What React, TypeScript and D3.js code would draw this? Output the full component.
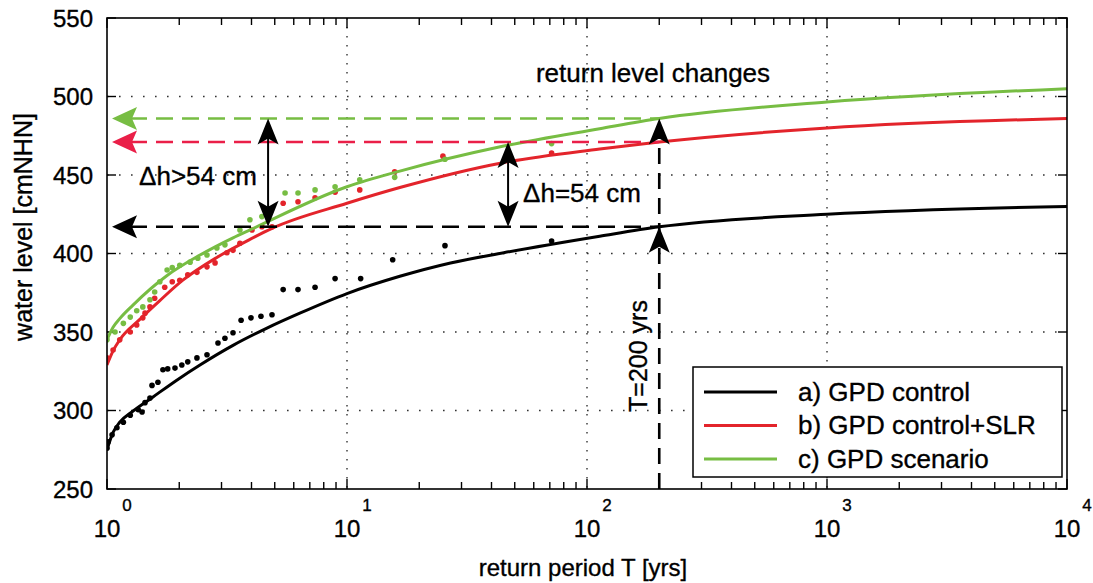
import React from 'react';
import * as d3 from 'd3';

const WIDTH = 1093;
const HEIGHT = 583;
const FONT = '"Liberation Sans", Arial, Helvetica, sans-serif';

// plot frame (pixels)
const PLOT_LEFT = 107;
const PLOT_RIGHT = 1067;
const PLOT_TOP = 18;
const PLOT_BOTTOM = 489;

// axes
const yTicks = [250, 300, 350, 400, 450, 500, 550];
const xDecadeExponents = [0, 1, 2, 3, 4];

// series colours
const COLOR_CONTROL = '#000000';
const COLOR_SLR = '#e3242b';
const COLOR_SLR_ARROW = '#ea1f48';
const COLOR_SCENARIO = '#77bd43';

// fitted GPD return level curves (return period T in years, level in cmNHN)
const controlCurveT = [1, 1.06, 1.13, 1.28, 1.55, 1.96, 2.44, 3.35, 4.64, 6.36, 10, 16.6, 27, 45, 113, 200, 1000, 10000];
const controlCurveLevel = [275, 286, 292.5, 299.5, 308.5, 319.5, 329, 341.5, 352.5, 362, 374.5, 385.5, 394, 400.5, 411, 417, 425, 430];

const slrCurveT = [1, 1.06, 1.13, 1.37, 1.66, 2.07, 2.87, 3.94, 4.87, 10, 16.6, 43.5, 113, 200, 1000, 10000];
const slrCurveLevel = [329, 338, 345, 358, 370, 383, 397.5, 409, 416, 432, 442, 457.5, 466.5, 471, 480, 486];

const scenarioCurveT = [1, 1.06, 1.13, 1.28, 1.78, 2.44, 3.35, 3.94, 10, 16.6, 43.5, 113, 200, 1000, 10000];
const scenarioCurveLevel = [345, 353, 358.5, 367, 386, 399, 410, 415, 442.5, 452.5, 468, 479.5, 486, 496.5, 505];

// empirical return levels
const controlObsT = [1.0, 1.01, 1.05, 1.1, 1.17, 1.25, 1.35, 1.4, 1.44, 1.51, 1.54, 1.63, 1.71, 1.79, 1.92, 2.05, 2.17, 2.37, 2.61, 2.9, 3.1, 3.35, 3.62, 3.98, 4.38, 4.87, 5.42, 6.25, 7.36, 8.92, 11.4, 15.5, 25.6, 71.2];
const controlObsLevel = [276, 280, 284.5, 289, 292.5, 297, 300.5, 299, 305, 308, 316, 318, 326, 326.5, 327, 329, 331, 333.5, 335.5, 343, 346, 349.5, 357.5, 359, 360, 361, 377, 377, 378.5, 384, 384, 396, 405, 408];

const slrObsT = [1.0, 1.06, 1.13, 1.25, 1.33, 1.41, 1.44, 1.51, 1.58, 1.74, 1.87, 2.01, 2.17, 2.37, 2.61, 2.82, 3.16, 3.35, 3.58, 4.02, 4.42, 4.87, 5.42, 6.25, 7.36, 8.92, 11.3, 15.8, 25.1, 71.2];
const slrObsLevel = [333.5, 338.5, 345, 350, 354.5, 359, 362, 366, 371.5, 378.5, 382, 383, 386.5, 388, 391.5, 394, 400.5, 402, 406.5, 415, 417, 417, 432, 433, 435.5, 439, 440.5, 452, 462, 464];

const scenarioObsT = [1.0, 1.08, 1.17, 1.25, 1.33, 1.41, 1.51, 1.58, 1.66, 1.78, 1.87, 2.01, 2.22, 2.39, 2.61, 2.87, 3.1, 3.58, 3.94, 4.42, 5.52, 6.25, 7.36, 8.92, 11.3, 15.8, 25.6, 71.2];
const scenarioObsLevel = [345, 350, 355.5, 359.5, 363.5, 366, 370.5, 375.5, 382, 389.5, 391, 392.5, 394.5, 397, 399, 403.5, 405.5, 415, 421.5, 423.5, 438.5, 438.5, 440.5, 442.5, 447, 448.5, 460, 470];

// 200-year return levels and the annotation arrows
const T_DESIGN = 200;
const level200Control = 417;
const level200Slr = 471; // control + 54 cm
const level200Scenario = 486;
const T_ARROW_SCENARIO = 4.69;
const T_ARROW_SLR = 46.9;

const legendLabels = ['a) GPD control', 'b) GPD control+SLR', 'c) GPD scenario'];
const legendColors = [COLOR_CONTROL, COLOR_SLR, COLOR_SCENARIO];

const x = d3.scaleLog().domain([1, 10000]).range([PLOT_LEFT, PLOT_RIGHT]);
const y = d3.scaleLinear().domain([250, 550]).range([PLOT_BOTTOM, PLOT_TOP]);

const lineGen = d3
  .line<[number, number]>()
  .x((d) => x(d[0]))
  .y((d) => y(d[1]))
  .curve(d3.curveMonotoneX);

const zip = (a: number[], b: number[]): [number, number][] => a.map((t, i) => [t, b[i]]);

// filled arrow head with a notched back; (dx, dy) points toward the tip
function arrowHead(tx: number, ty: number, dx: number, dy: number, len = 26, half = 10.5, notch = 20) {
  const bx = tx - dx * len;
  const by = ty - dy * len;
  const nx = tx - dx * notch;
  const ny = ty - dy * notch;
  const px = -dy;
  const py = dx;
  return `M${tx},${ty}L${bx + px * half},${by + py * half}L${nx},${ny}L${bx - px * half},${by - py * half}Z`;
}

const minorTicks: number[] = [];
for (let d = 0; d < 4; d++) {
  for (let k = 2; k <= 9; k++) minorTicks.push(k * Math.pow(10, d));
}

// slightly heavier text strokes
const TEXT_STYLE = { stroke: '#000', strokeWidth: 0.35 };

export default function App() {
  const series = [
    { curve: zip(controlCurveT, controlCurveLevel), obs: zip(controlObsT, controlObsLevel), color: COLOR_CONTROL },
    { curve: zip(slrCurveT, slrCurveLevel), obs: zip(slrObsT, slrObsLevel), color: COLOR_SLR },
    { curve: zip(scenarioCurveT, scenarioCurveLevel), obs: zip(scenarioObsT, scenarioObsLevel), color: COLOR_SCENARIO },
  ];

  const xd = x(T_DESIGN);
  const arrowStartX = x(1) + 5;
  const hLevels = [
    { level: level200Scenario, color: COLOR_SCENARIO },
    { level: level200Slr, color: COLOR_SLR_ARROW },
    { level: level200Control, color: COLOR_CONTROL },
  ];

  const xa1 = x(T_ARROW_SCENARIO);
  const xa2 = x(T_ARROW_SLR);

  return (
    <svg
      width={WIDTH}
      height={HEIGHT}
      viewBox={`0 0 ${WIDTH} ${HEIGHT}`}
      style={{ position: 'absolute', left: 0, top: 0, background: '#fff', fontFamily: FONT }}
    >
      <defs>
        <clipPath id="plot-clip">
          <rect x={PLOT_LEFT} y={PLOT_TOP} width={PLOT_RIGHT - PLOT_LEFT} height={PLOT_BOTTOM - PLOT_TOP} />
        </clipPath>
      </defs>

      {/* dotted grid */}
      <g stroke="#333" strokeWidth={1.4} fill="none">
        {yTicks.slice(1, -1).map((v) => (
          <line key={`gy${v}`} x1={PLOT_LEFT} x2={PLOT_RIGHT} y1={y(v)} y2={y(v)} strokeDasharray="1.6,10.4" />
        ))}
        {xDecadeExponents.slice(1, -1).map((e) => (
          <line key={`gx${e}`} x1={x(10 ** e)} x2={x(10 ** e)} y1={PLOT_TOP} y2={PLOT_BOTTOM} strokeDasharray="1.6,7.4" />
        ))}
      </g>

      {/* ticks */}
      <g stroke="#000" strokeWidth={1.4}>
        {yTicks.map((v) => (
          <g key={`ty${v}`}>
            <line x1={PLOT_LEFT} x2={PLOT_LEFT + 9} y1={y(v)} y2={y(v)} />
            <line x1={PLOT_RIGHT} x2={PLOT_RIGHT - 9} y1={y(v)} y2={y(v)} />
          </g>
        ))}
        {minorTicks.map((t) => (
          <g key={`tm${t}`}>
            <line x1={x(t)} x2={x(t)} y1={PLOT_BOTTOM} y2={PLOT_BOTTOM - 7} />
            <line x1={x(t)} x2={x(t)} y1={PLOT_TOP} y2={PLOT_TOP + 7} />
          </g>
        ))}
        {xDecadeExponents.map((e) => (
          <g key={`tx${e}`}>
            <line x1={x(10 ** e)} x2={x(10 ** e)} y1={PLOT_BOTTOM} y2={PLOT_BOTTOM - 10} />
            <line x1={x(10 ** e)} x2={x(10 ** e)} y1={PLOT_TOP} y2={PLOT_TOP + 10} />
          </g>
        ))}
      </g>

      {/* tick labels */}
      <g fontSize={24} fill="#000" style={TEXT_STYLE}>
        {yTicks.map((v) => (
          <text key={`ly${v}`} x={PLOT_LEFT - 14} y={y(v) + 8.5} textAnchor="end">
            {v}
          </text>
        ))}
        {xDecadeExponents.map((e) => (
          <g key={`lx${e}`}>
            <text x={x(10 ** e)} y={537} textAnchor="middle">
              10
            </text>
            <text x={x(10 ** e) + 20} y={511} fontSize={17} textAnchor="middle">
              {e}
            </text>
          </g>
        ))}
      </g>

      {/* axis titles */}
      <g style={TEXT_STYLE}>
        <text x={583} y={576} fontSize={24} textAnchor="middle">
          return period T [yrs]
        </text>
        <text transform="translate(32,227) rotate(-90)" fontSize={25} textAnchor="middle">
          water level [cmNHN]
        </text>
      </g>

      {/* data and fitted curves */}
      <g clipPath="url(#plot-clip)">
        {series.map((s, i) => (
          <g key={`s${i}`}>
            {s.obs.map((d, j) => (
              <circle key={j} cx={x(d[0])} cy={y(d[1])} r={2.8} fill={s.color} />
            ))}
            <path d={lineGen(s.curve) || ''} fill="none" stroke={s.color} strokeWidth={3} />
          </g>
        ))}
      </g>

      {/* return level read-off lines */}
      <g fill="none" strokeWidth={2.6} strokeDasharray="17,9">
        {hLevels.map((h) => (
          <line key={`h${h.level}`} x1={arrowStartX + 18} x2={xd} y1={y(h.level)} y2={y(h.level)} stroke={h.color} />
        ))}
        <line x1={xd} x2={xd} y1={PLOT_BOTTOM} y2={y(level200Scenario) + 10} stroke="#000" strokeDasharray="16,9" />
      </g>
      {hLevels.map((h) => (
        <path key={`ah${h.level}`} d={arrowHead(arrowStartX, y(h.level), -1, 0, 25, 11.5, 20)} fill={h.color} />
      ))}
      <path d={arrowHead(xd, y(level200Scenario), 0, -1)} fill="#000" />
      <path d={arrowHead(xd, y(level200Control), 0, -1)} fill="#000" />

      {/* level difference arrows */}
      <g stroke="#000" strokeWidth={2}>
        <line x1={xa1} x2={xa1} y1={y(level200Scenario) + 15} y2={y(level200Control) - 15} />
        <line x1={xa2} x2={xa2} y1={y(level200Slr) + 15} y2={y(level200Control) - 15} />
      </g>
      <path d={arrowHead(xa1, y(level200Scenario), 0, -1)} fill="#000" />
      <path d={arrowHead(xa1, y(level200Control), 0, 1)} fill="#000" />
      <path d={arrowHead(xa2, y(level200Slr), 0, -1)} fill="#000" />
      <path d={arrowHead(xa2, y(level200Control), 0, 1)} fill="#000" />

      {/* annotations */}
      <g style={TEXT_STYLE}>
        <text x={653} y={82} fontSize={26} textAnchor="middle">
          return level changes
        </text>
        <text x={198} y={185} fontSize={26} textAnchor="middle">
          Δh&gt;54 cm
        </text>
        <text x={582} y={202} fontSize={26} textAnchor="middle">
          Δh=54 cm
        </text>
        <text transform={`translate(${xd - 12},356) rotate(-90)`} fontSize={25} textAnchor="middle">
          T=200 yrs
        </text>
      </g>

      {/* legend */}
      <g>
        <rect x={693} y={367} width={369} height={110} fill="#fff" stroke="#000" strokeWidth={1.5} />
        {legendLabels.map((label, i) => {
          const ly = 392 + i * 33.5;
          return (
            <g key={label}>
              <line x1={704} x2={777} y1={ly} y2={ly} stroke={legendColors[i]} strokeWidth={3} />
              <text x={798} y={ly + 8.5} fontSize={26} style={TEXT_STYLE}>
                {label}
              </text>
            </g>
          );
        })}
      </g>

      {/* frame */}
      <rect
        x={PLOT_LEFT}
        y={PLOT_TOP}
        width={PLOT_RIGHT - PLOT_LEFT}
        height={PLOT_BOTTOM - PLOT_TOP}
        fill="none"
        stroke="#000"
        strokeWidth={1.6}
      />
    </svg>
  );
}
